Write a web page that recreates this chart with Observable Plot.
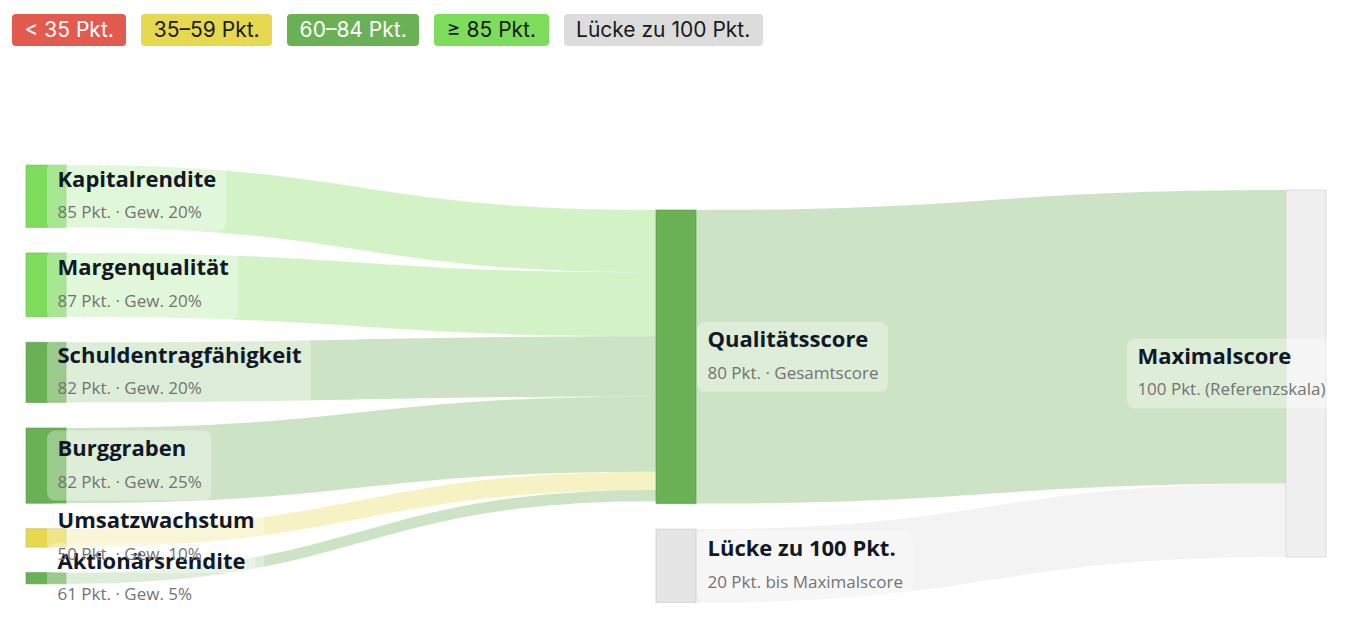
<!DOCTYPE html>
<html><head><meta charset="utf-8">
<script src="https://cdn.jsdelivr.net/npm/d3@7"></script>
<script src="https://cdn.jsdelivr.net/npm/@observablehq/plot@0.6"></script>
<style>
html,body{margin:0;padding:0;background:#fff;overflow:hidden;}
#legend{display:flex;gap:15px;padding:14px 12px 0 12px;height:46px;font-family:Inter, "Noto Sans", sans-serif;font-size:21px;}
.pill{height:32px;line-height:32px;padding:0 12.5px;border-radius:4px;white-space:nowrap;}
</style></head><body>
<div id="legend"></div>
<div id="chart"></div>
<script>
// ---- data ----
const legendLabels = ["< 35 Pkt.", "35–59 Pkt.", "60–84 Pkt.", "≥ 85 Pkt.", "Lücke zu 100 Pkt."];
const legendColors = ["#e35b4f", "#e6d84f", "#6ab155", "#7ddc5c", "#dcdcdc"];
const legendTextColors = ["#ffffff", "#1a1a1a", "#ffffff", "#1a1a1a", "#1a1a1a"];

const factorNames = ["Kapitalrendite", "Margenqualität", "Schuldentragfähigkeit", "Burggraben", "Umsatzwachstum", "Aktionärsrendite"];
const factorScores = [85, 87, 82, 82, 50, 61];
const factorWeights = [20, 20, 20, 25, 10, 5];
const totalName = "Qualitätsscore";
const totalScore = 80;
const gapName = "Lücke zu 100 Pkt.";
const maxName = "Maximalscore";
const maxScore = 100;

// ---- legend ----
const legend = document.getElementById("legend");
legendLabels.forEach((t, i) => {
  const s = document.createElement("span");
  s.className = "pill";
  s.textContent = t;
  s.style.background = legendColors[i];
  s.style.color = legendTextColors[i];
  legend.appendChild(s);
});

// ---- layout ----
function scoreColor(v) {
  if (v < 35) return legendColors[0];
  if (v < 60) return legendColors[1];
  if (v < 85) return legendColors[2];
  return legendColors[3];
}
const W = 1350, H = 573;
const xDomain = [0, 2], xRange = [46, 1306];
const yDomain = [0, 100], yRange = [130, 497];
const xs = d3.scaleLinear().domain(xDomain).range(xRange);
const ys = d3.scaleLinear().domain(yDomain).range(yRange);
const nodeHalfPx = 20;
const colTop = [-6.8, 5.45, 0];
const pad = 6.95;
const labelOffsetPx = [11, 31, 31];

const nodes = [];
factorNames.forEach((n, i) => nodes.push({
  name: n, col: 0, value: factorScores[i] * factorWeights[i] / 100,
  color: scoreColor(factorScores[i]),
  sub: `${factorScores[i]} Pkt. · Gew. ${factorWeights[i]}%`
}));
nodes.push({name: totalName, col: 1, value: totalScore, color: scoreColor(totalScore), sub: `${totalScore} Pkt. · Gesamtscore`});
nodes.push({name: gapName, col: 1, value: maxScore - totalScore, color: "#e5e5e5", stroke: "#c4c4c4", linkColor: "#dcdcdc", sub: `${maxScore - totalScore} Pkt. bis Maximalscore`});
nodes.push({name: maxName, col: 2, value: maxScore, color: "#f0f0f0", stroke: "#cccccc", sub: `${maxScore} Pkt. (Referenzskala)`});

[0, 1, 2].forEach(c => {
  let y = colTop[c];
  nodes.filter(d => d.col === c).forEach(d => {
    d.y0 = y; d.y1 = y + d.value; y = d.y1 + pad;
    d.outOff = d.y0; d.inOff = d.y0;
    if (!d.stroke) d.stroke = d3.color(d.color).darker(0.4).formatHex();
  });
});
const byName = Object.fromEntries(nodes.map(d => [d.name, d]));
const links = [];
factorNames.forEach((n, i) => links.push({source: n, target: totalName, value: factorScores[i] * factorWeights[i] / 100}));
links.push({source: totalName, target: maxName, value: totalScore});
links.push({source: gapName, target: maxName, value: maxScore - totalScore});

const linkRows = [];
links.forEach((l, i) => {
  const s = byName[l.source], t = byName[l.target];
  const sy0 = s.outOff, sy1 = sy0 + l.value; s.outOff = sy1;
  const ty0 = t.inOff, ty1 = ty0 + l.value; t.inOff = ty1;
  const fill = s.linkColor || s.color;
  linkRows.push({id: i, x: xs.invert(xs(s.col) + nodeHalfPx), y1: sy0, y2: sy1, fill});
  linkRows.push({id: i, x: xs.invert(xs(t.col) - nodeHalfPx), y1: ty0, y2: ty1, fill});
});

// text measurement for label boxes
const titleSize = 22, subSize = 17;
const ctx = document.createElement("canvas").getContext("2d");
const titleFont = `700 ${titleSize}px 'Open Sans'`;
const subFont = `400 ${subSize}px 'Open Sans'`;
nodes.forEach(d => {
  ctx.font = titleFont; const tw = ctx.measureText(d.name).width;
  ctx.font = subFont; const sw = ctx.measureText(d.sub).width;
  const w = Math.max(tw, sw);
  let lx = xs(d.col) + labelOffsetPx[d.col];
  if (lx + w + 10 > W - 15) lx = W - 15 - 10 - w;
  d.cy = (d.y0 + d.y1) / 2;
  d.lx = xs.invert(lx);
  d.bx1 = xs.invert(lx - 10);
  d.bx2 = xs.invert(lx + w + 10);
  const cpx = ys(d.cy);
  d.by1 = ys.invert(cpx - 35);
  d.by2 = ys.invert(cpx + 35);
  d.nx1 = xs.invert(xs(d.col) - nodeHalfPx);
  d.nx2 = xs.invert(xs(d.col) + nodeHalfPx);
});

const chart = Plot.plot({
  width: W, height: H,
  margin: 0,
  x: {domain: xDomain, range: xRange, axis: null},
  y: {domain: yDomain, range: yRange, axis: null},
  marks: [
    Plot.areaY(linkRows, {x: "x", y1: "y1", y2: "y2", z: "id", fill: "fill", fillOpacity: 0.34, curve: "bump-x"}),
    Plot.rect(nodes, {x1: "nx1", x2: "nx2", y1: "y0", y2: "y1", fill: "color", stroke: "stroke", strokeOpacity: 0.6, strokeWidth: 1}),
    Plot.rect(nodes, {x1: "bx1", x2: "bx2", y1: "by1", y2: "by2", fill: "#ffffff", fillOpacity: 0.33, rx: 8, ariaLabel: "label-box"}),
    Plot.text(nodes, {x: "lx", y: "cy", text: "name", dy: -17, textAnchor: "start", fontFamily: "Open Sans", fontSize: titleSize, fontWeight: 700, fill: "#111827"}),
    Plot.text(nodes, {x: "lx", y: "cy", text: "sub", dy: 16, textAnchor: "start", fontFamily: "Open Sans", fontSize: subSize, fill: "#737373"})
  ]
});
chart.style.display = "block";
const boxG = chart.querySelector('g[aria-label="label-box"]');
if (boxG) boxG.style.filter = "drop-shadow(0px 4px 8px rgba(0,0,0,0.07))";
document.getElementById("chart").appendChild(chart);
</script>
</body></html>
